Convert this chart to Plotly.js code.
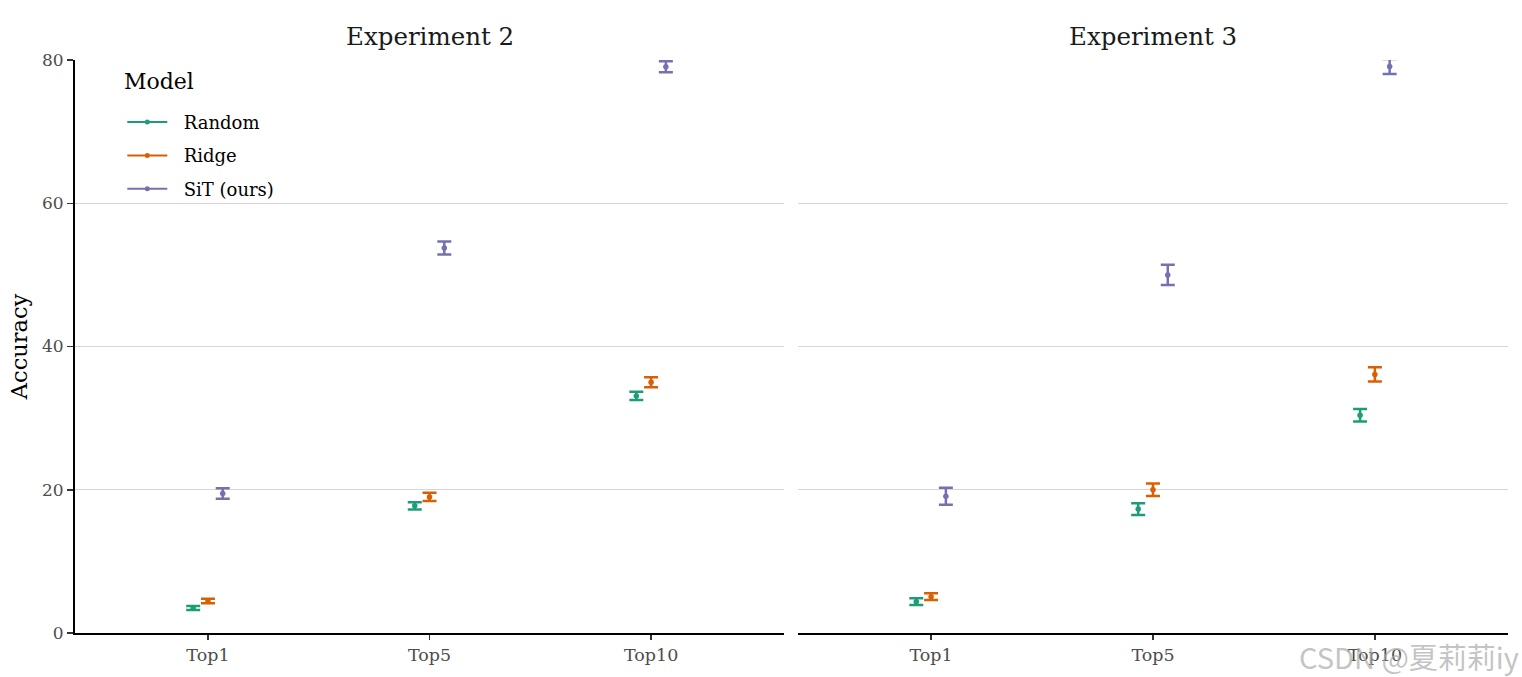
<!DOCTYPE html>
<html>
<head>
<meta charset="utf-8">
<script src="https://cdn.plot.ly/plotly-3.0.1.min.js"></script>
<style>html,body{margin:0;padding:0;background:#fff;}#chart{width:1522px;height:677px;}</style>
</head>
<body>
<div id="chart"></div>
<script>
// ---- data ----
const categories = ["Top1", "Top5", "Top10"];
const models = ["Random", "Ridge", "SiT (ours)"];
const experiments = ["Experiment 2", "Experiment 3"];
const legendTitle = "Model";

// Experiment 2 means / errors
const exp2Random = [3.5, 17.75, 33.1];
const exp2RandomErr = [0.28, 0.49, 0.58];
const exp2Ridge = [4.47, 19.0, 35.0];
const exp2RidgeErr = [0.32, 0.58, 0.7];
const exp2SiT = [19.48, 53.75, 79.07];
const exp2SiTErr = [0.73, 0.9, 0.77];

// Experiment 3 means / errors
const exp3Random = [4.37, 17.3, 30.4];
const exp3RandomErr = [0.47, 0.82, 0.88];
const exp3Ridge = [5.07, 20.0, 36.1];
const exp3RidgeErr = [0.47, 0.88, 1.0];
const exp3SiT = [19.1, 50.0, 79.1];
const exp3SiTErr = [1.19, 1.4, 1.05];

const colors = ["#1B9E77", "#D95F02", "#7570B3"];
const dodgeWidth = 0.2;

const series = [
  [[exp2Random, exp2RandomErr], [exp2Ridge, exp2RidgeErr], [exp2SiT, exp2SiTErr]],
  [[exp3Random, exp3RandomErr], [exp3Ridge, exp3RidgeErr], [exp3SiT, exp3SiTErr]]
];

const FONT = "DejaVu Serif";
const traces = [];
const catPos = categories.map((c, i) => i + 1);

series.forEach((panel, p) => {
  panel.forEach((s, k) => {
    const off = (k - 1) * dodgeWidth / 3;
    traces.push({
      type: "scatter",
      mode: "markers",
      x: catPos.map(v => v + off),
      y: s[0],
      error_y: {type: "data", array: s[1], visible: true, color: colors[k], thickness: 2.5, width: 7},
      marker: {color: colors[k], size: 5.5},
      xaxis: p === 0 ? "x" : "x2",
      yaxis: p === 0 ? "y" : "y2",
      name: models[k],
      showlegend: false,
      hoverinfo: "x+y"
    });
  });
});
// legend keys (line + point, like the reference legend)
models.forEach((m, k) => {
  traces.push({
    type: "scatter", mode: "lines+markers", x: [null], y: [null],
    line: {color: colors[k], width: 2}, marker: {color: colors[k], size: 5},
    name: "\u00a0\u00a0" + m, showlegend: true, legendgroup: "g" + k,
    xaxis: "x", yaxis: "y"
  });
});

const xCommon = {
  range: [0.4, 3.6],
  tickvals: catPos,
  ticktext: categories,
  showgrid: false,
  zeroline: false,
  showline: true,
  linecolor: "#000",
  linewidth: 2,
  ticks: "outside",
  ticklen: 5,
  tickwidth: 1.5,
  tickcolor: "#333",
  tickfont: {family: FONT, size: 17.5, color: "#4d4d4d"},
  fixedrange: true
};
const yCommon = {
  range: [0, 80],
  tickvals: [0, 20, 40, 60, 80],
  showgrid: true,
  gridcolor: "#d6d6d6",
  gridwidth: 1,
  zeroline: false,
  fixedrange: true
};

const layout = {
  width: 1522,
  height: 677,
  margin: {l: 75, r: 14, t: 60, b: 44},
  paper_bgcolor: "#fff",
  plot_bgcolor: "#fff",
  font: {family: FONT, color: "#000"},
  xaxis: Object.assign({}, xCommon, {domain: [0, 0.4948], anchor: "y"}),
  xaxis2: Object.assign({}, xCommon, {domain: [0.5045, 1], anchor: "y2"}),
  yaxis: Object.assign({}, yCommon, {
    anchor: "x",
    showline: true, linecolor: "#000", linewidth: 2,
    ticks: "outside", ticklen: 6, tickwidth: 1.5, tickcolor: "#333",
    tickfont: {family: FONT, size: 17, color: "#4d4d4d"},
    title: {text: "Accuracy", font: {family: FONT, size: 22.5, color: "#000"}, standoff: 8}
  }),
  yaxis2: Object.assign({}, yCommon, {anchor: "x2", matches: "y", showticklabels: false, showline: false, ticks: ""}),
  showlegend: true,
  legend: {
    x: 0.033, y: 0.9235, xanchor: "left", yanchor: "top",
    bgcolor: "rgba(255,255,255,0)",
    font: {family: FONT, size: 18, color: "#000"},
    tracegroupgap: 7,
    itemwidth: 40
  },
  annotations: [
    {text: legendTitle, xref: "paper", yref: "paper", x: 0.0328, y: 0.9617, xanchor: "left", yanchor: "middle", showarrow: false, font: {family: FONT, size: 22, color: "#000"}},
    {text: experiments[0], xref: "paper", yref: "paper", x: 0.2474, y: 1, xanchor: "center", yanchor: "bottom", yshift: 7, showarrow: false, font: {family: FONT, size: 24.5, color: "#1a1a1a"}},
    {text: experiments[1], xref: "paper", yref: "paper", x: 0.7523, y: 1, xanchor: "center", yanchor: "bottom", yshift: 7, showarrow: false, font: {family: FONT, size: 24.5, color: "#1a1a1a"}},
    {text: "CSDN @夏莉莉iy", xref: "paper", yref: "paper", x: 1.009, y: 0, xanchor: "right", yanchor: "top", yshift: 0, showarrow: false, font: {family: "Noto Sans CJK SC", size: 29, color: "rgba(170,170,170,0.7)"}}
  ]
};

Plotly.newPlot("chart", traces, layout, {displayModeBar: false, staticPlot: true});
</script>
</body>
</html>
